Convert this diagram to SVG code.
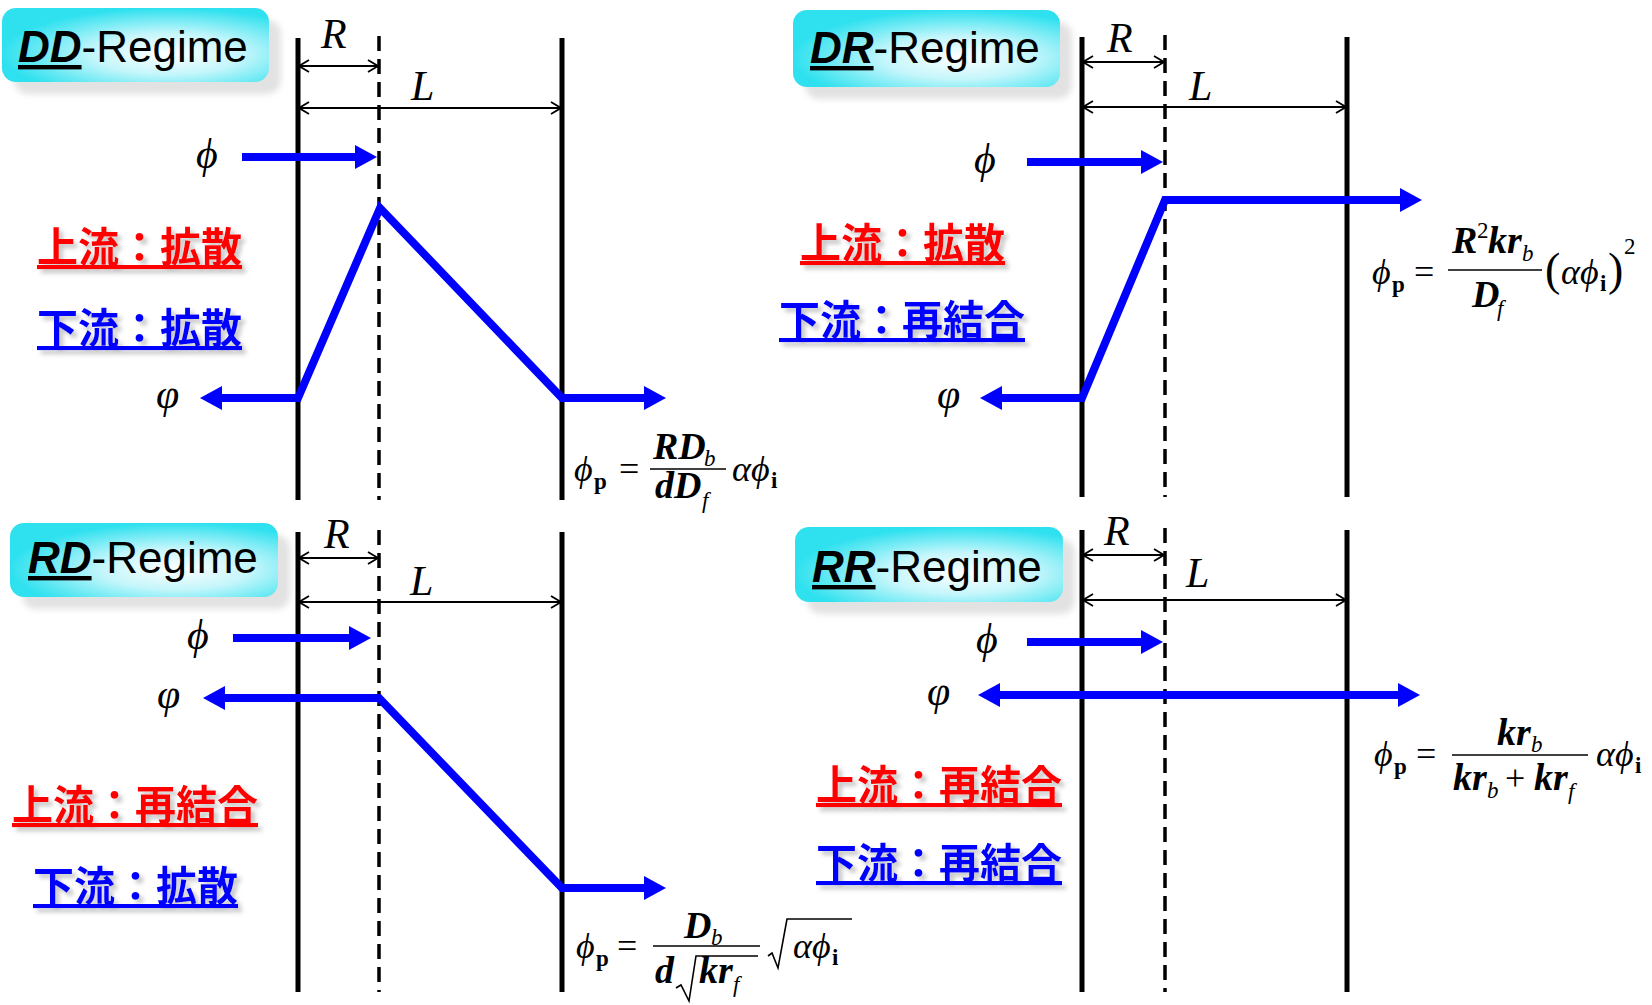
<svg xmlns="http://www.w3.org/2000/svg" width="1652" height="1005" viewBox="0 0 1652 1005">
<style>
.bg{fill:#fff}
.box{fill:url(#cyan)}
.shadow{fill:#e2e2e2;filter:url(#blur)}
.title{font-family:"Liberation Sans",Arial,sans-serif;font-size:44px;fill:#000}
.tb{font-weight:bold;font-style:italic;text-decoration:underline}
.wall{stroke:#000;stroke-width:5;fill:none}
.dash{stroke:#000;stroke-width:3.5;stroke-dasharray:15 8;fill:none}
.dim{stroke:#000;stroke-width:1.8;fill:none;marker-start:url(#dm);marker-end:url(#dm)}
.flow{stroke:#0000ff;stroke-width:8;fill:none;stroke-linejoin:miter;marker-end:url(#ah)}
.flow2{stroke:#0000ff;stroke-width:8;fill:none;stroke-linejoin:miter;marker-start:url(#ah);marker-end:url(#ah)}
.var{font-family:"Liberation Serif","Times New Roman",serif;font-style:italic;font-size:42px;fill:#000}
.jp{font-family:"Noto Sans CJK JP","Noto Sans CJK SC",sans-serif;font-weight:bold;font-size:41px;text-decoration:underline;filter:url(#tsh)}
.red{fill:#ff0000}
.blue{fill:#0000ff}
.m{font-family:"Liberation Serif","Times New Roman",serif;font-size:36px;font-style:italic;fill:#000}
.mb{font-family:"Liberation Serif","Times New Roman",serif;font-size:38px;font-style:italic;font-weight:bold;fill:#000}
.mu{font-family:"Liberation Serif","Times New Roman",serif;font-size:36px;fill:#000}
.par{font-family:"Liberation Serif","Times New Roman",serif;font-size:46px;fill:#000}
.s{font-family:"Liberation Serif","Times New Roman",serif;font-size:23px;font-style:italic;fill:#000}
.sb{font-family:"Liberation Serif","Times New Roman",serif;font-size:23px;font-weight:bold;fill:#000}
.su{font-family:"Liberation Serif","Times New Roman",serif;font-size:23px;fill:#000}
.bar{stroke:#000;stroke-width:1.6;fill:none}
</style>
<defs>
<radialGradient id="cyan" cx="0.62" cy="0.62" r="0.62">
<stop offset="0" stop-color="#ffffff"/>
<stop offset="0.45" stop-color="#c4f6fb"/>
<stop offset="1" stop-color="#2fe1ef"/>
</radialGradient>
<filter id="blur" x="-10%" y="-20%" width="120%" height="140%"><feGaussianBlur stdDeviation="3"/></filter>
<filter id="tsh" x="-5%" y="-20%" width="115%" height="150%"><feDropShadow dx="4" dy="4" stdDeviation="2" flood-color="#808080" flood-opacity="0.45"/></filter>
<marker id="ah" viewBox="0 0 22 24" refX="1" refY="12" markerWidth="22" markerHeight="24" markerUnits="userSpaceOnUse" orient="auto-start-reverse"><path d="M0,0 L22,12 L0,24 Z" fill="#0000ff"/></marker>
<marker id="dm" viewBox="0 0 12 14" refX="11" refY="7" markerWidth="12" markerHeight="14" markerUnits="userSpaceOnUse" orient="auto-start-reverse"><path d="M1,1 L11,7 L1,13" fill="none" stroke="#000" stroke-width="1.8"/></marker>
</defs>
<rect class="bg" x="0" y="0" width="1652" height="1005"/>

<!-- DD panel -->
<g id="dd-label">
<rect class="shadow" x="14" y="20" width="267" height="74" rx="14"/>
<rect class="box" x="2" y="8" width="267" height="74" rx="14"/>
<text class="title" x="18" y="62"><tspan class="tb">DD</tspan>-Regime</text>
</g>
<g id="dd-walls">
<line class="wall" x1="298" y1="38" x2="298" y2="500"/>
<line class="wall" x1="562" y1="38" x2="562" y2="500"/>
<line class="dash" x1="379" y1="36" x2="379" y2="500"/>
</g>
<g id="dd-dims">
<line class="dim" x1="299" y1="66" x2="378" y2="66"/>
<line class="dim" x1="299" y1="108" x2="561" y2="108"/>
<text class="var" x="321" y="48">R</text>
<text class="var" x="411" y="100">L</text>
</g>
<g id="dd-text">
<text class="var" x="196" y="168">ϕ</text>
<text class="var" x="156" y="408">φ</text>
<text class="jp red" x="37" y="262">上流：拡散</text>
<text class="jp blue" x="37" y="343">下流：拡散</text>
</g>
<g id="dd-formula">
<text class="m" x="574" y="481">ϕ</text><text class="sb" x="594" y="489">p</text>
<text class="mu" x="619" y="481">=</text>
<line class="bar" x1="650" y1="469" x2="726" y2="469"/>
<text class="mb" x="653" y="459">RD</text><text class="s" x="704" y="466">b</text>
<text class="mb" x="655" y="498">dD</text><text class="s" x="702" y="508">f</text>
<text class="m" x="732" y="481">αϕ</text><text class="sb" x="771" y="488">i</text>
</g>

<!-- DR panel -->
<g id="dr-label">
<rect class="shadow" x="805" y="22" width="267" height="77" rx="14"/>
<rect class="box" x="793" y="10" width="267" height="77" rx="14"/>
<text class="title" x="810" y="63"><tspan class="tb">DR</tspan>-Regime</text>
</g>
<g id="dr-walls">
<line class="wall" x1="1082" y1="37" x2="1082" y2="497"/>
<line class="wall" x1="1347" y1="37" x2="1347" y2="497"/>
<line class="dash" x1="1165" y1="35" x2="1165" y2="497"/>
</g>
<g id="dr-dims">
<line class="dim" x1="1083" y1="62" x2="1164" y2="62"/>
<line class="dim" x1="1083" y1="107" x2="1346" y2="107"/>
<text class="var" x="1107" y="52">R</text>
<text class="var" x="1189" y="100">L</text>
</g>
<g id="dr-text">
<text class="var" x="974" y="173">ϕ</text>
<text class="var" x="937" y="408">φ</text>
<text class="jp red" x="800" y="258">上流：拡散</text>
<text class="jp blue" x="779" y="335">下流：再結合</text>
</g>
<g id="dr-formula">
<text class="m" x="1372" y="284">ϕ</text><text class="sb" x="1392" y="292">p</text>
<text class="mu" x="1414" y="284">=</text>
<line class="bar" x1="1448" y1="270" x2="1542" y2="270"/>
<text class="mb" x="1452" y="253">R</text><text class="su" x="1477" y="238">2</text><text class="mb" x="1488" y="253">kr</text><text class="s" x="1522" y="261">b</text>
<text class="mb" x="1472" y="307">D</text><text class="s" x="1497" y="316">f</text>
<text class="par" x="1545" y="285">(</text><text class="m" x="1561" y="284">αϕ</text><text class="sb" x="1600" y="291">i</text><text class="par" x="1608" y="285">)</text><text class="su" x="1624" y="254">2</text>
</g>

<!-- RD panel -->
<g id="rd-label">
<rect class="shadow" x="22" y="535" width="268" height="74" rx="14"/>
<rect class="box" x="10" y="523" width="268" height="74" rx="14"/>
<text class="title" x="28" y="573"><tspan class="tb">RD</tspan>-Regime</text>
</g>
<g id="rd-walls">
<line class="wall" x1="298" y1="532" x2="298" y2="992"/>
<line class="wall" x1="562" y1="532" x2="562" y2="992"/>
<line class="dash" x1="379" y1="530" x2="379" y2="992"/>
</g>
<g id="rd-dims">
<line class="dim" x1="299" y1="558" x2="378" y2="558"/>
<line class="dim" x1="299" y1="602" x2="561" y2="602"/>
<text class="var" x="324" y="548">R</text>
<text class="var" x="410" y="595">L</text>
</g>
<g id="rd-text">
<text class="var" x="187" y="649">ϕ</text>
<text class="var" x="157" y="708">φ</text>
<text class="jp red" x="12" y="820">上流：再結合</text>
<text class="jp blue" x="33" y="901">下流：拡散</text>
</g>
<g id="rd-formula">
<text class="m" x="576" y="958">ϕ</text><text class="sb" x="596" y="966">p</text>
<text class="mu" x="617" y="958">=</text>
<line class="bar" x1="653" y1="946" x2="760" y2="946"/>
<text class="mb" x="684" y="938">D</text><text class="s" x="711" y="945">b</text>
<text class="mb" x="655" y="983">d</text>
<path class="bar" d="M676,988 L681,985 L689,1001 L696,956 L758,956"/>
<text class="mb" x="699" y="983">kr</text><text class="s" x="733" y="992">f</text>
<path class="bar" d="M768,956 L772,953 L778,968 L787,919 L852,919"/>
<text class="m" x="793" y="958">αϕ</text><text class="sb" x="832" y="965">i</text>
</g>

<!-- RR panel -->
<g id="rr-label">
<rect class="shadow" x="807" y="539" width="268" height="75" rx="14"/>
<rect class="box" x="795" y="527" width="268" height="75" rx="14"/>
<text class="title" x="812" y="582"><tspan class="tb">RR</tspan>-Regime</text>
</g>
<g id="rr-walls">
<line class="wall" x1="1082" y1="530" x2="1082" y2="992"/>
<line class="wall" x1="1347" y1="530" x2="1347" y2="992"/>
<line class="dash" x1="1165" y1="528" x2="1165" y2="992"/>
</g>
<g id="rr-dims">
<line class="dim" x1="1083" y1="555" x2="1164" y2="555"/>
<line class="dim" x1="1083" y1="600" x2="1346" y2="600"/>
<text class="var" x="1104" y="545">R</text>
<text class="var" x="1186" y="587">L</text>
</g>
<g id="rr-text">
<text class="var" x="976" y="653">ϕ</text>
<text class="var" x="927" y="705">φ</text>
<text class="jp red" x="816" y="800">上流：再結合</text>
<text class="jp blue" x="816" y="878">下流：再結合</text>
</g>
<g id="rr-formula">
<text class="m" x="1374" y="766">ϕ</text><text class="sb" x="1394" y="774">p</text>
<text class="mu" x="1416" y="766">=</text>
<line class="bar" x1="1452" y1="755" x2="1588" y2="755"/>
<text class="mb" x="1497" y="745">kr</text><text class="s" x="1531" y="752">b</text>
<text class="mb" x="1453" y="790">kr</text><text class="s" x="1487" y="798">b</text>
<text class="mu" x="1505" y="790">+</text>
<text class="mb" x="1534" y="790">kr</text><text class="s" x="1568" y="799">f</text>
<text class="m" x="1596" y="766">αϕ</text><text class="sb" x="1635" y="773">i</text>
</g>

<!-- connectors -->
<g id="connectors">
<line class="flow" x1="242" y1="157" x2="356" y2="157"/>
<path class="flow2" d="M221,398 L298,398 L380,208 L562,398 L645,398"/>
<line class="flow" x1="1027" y1="162" x2="1142" y2="162"/>
<path class="flow2" d="M1001,398 L1082,398 L1165,200 L1401,200"/>
<line class="flow" x1="233" y1="638" x2="350" y2="638"/>
<path class="flow2" d="M224,698 L379,698 L562,888 L645,888"/>
<line class="flow" x1="1027" y1="642" x2="1142" y2="642"/>
<line class="flow2" x1="999" y1="695" x2="1399" y2="695"/>
</g>
</svg>
